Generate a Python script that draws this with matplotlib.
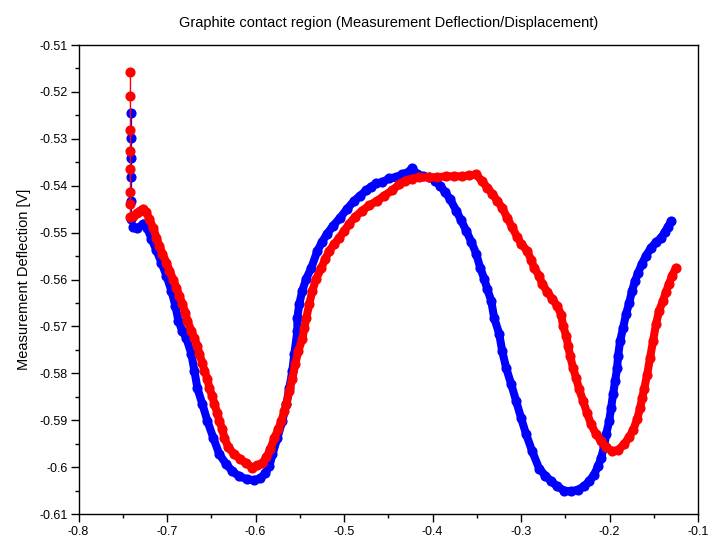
import matplotlib
matplotlib.use("Agg")
import matplotlib.pyplot as plt
from matplotlib.ticker import MultipleLocator, FormatStrFormatter

plt.rcParams['font.family'] = ['Liberation Sans', 'DejaVu Sans']

title = "Graphite contact region (Measurement Deflection/Displacement)"
ylabel = "Measurement Deflection [V]"

blue_x = [-0.7402, -0.7402, -0.7402, -0.7402, -0.7402, -0.7402,
          -0.7379, -0.7334, -0.7266, -0.7221, -0.7176, -0.7119, -0.7063, -0.7006,
          -0.6950, -0.6905, -0.6871, -0.6826, -0.6781, -0.6724, -0.6690, -0.6656,
          -0.6600, -0.6543, -0.6476, -0.6408, -0.6329, -0.6261, -0.6182, -0.6092,
          -0.6013, -0.5945, -0.5889, -0.5843, -0.5809, -0.5753, -0.5697, -0.5651,
          -0.5618, -0.5584, -0.5561, -0.5527, -0.5527, -0.5505, -0.5471, -0.5426,
          -0.5369, -0.5301, -0.5245, -0.5189, -0.5121, -0.5042, -0.4963, -0.4884,
          -0.4816, -0.4748, -0.4692, -0.4635, -0.4568, -0.4488, -0.4409, -0.4342,
          -0.4285, -0.4229, -0.4172, -0.4104, -0.4037, -0.3969, -0.3913, -0.3856,
          -0.3800, -0.3732, -0.3676, -0.3619, -0.3563, -0.3506, -0.3461, -0.3416,
          -0.3382, -0.3337, -0.3303, -0.3246, -0.3213, -0.3167, -0.3111, -0.3055,
          -0.2998, -0.2942, -0.2874, -0.2795, -0.2727, -0.2659, -0.2592, -0.2513,
          -0.2433, -0.2354, -0.2287, -0.2230, -0.2174, -0.2129, -0.2095, -0.2061,
          -0.2038, -0.2004, -0.1982, -0.1959, -0.1937, -0.1914, -0.1903, -0.1880,
          -0.1846, -0.1812, -0.1778, -0.1745, -0.1711, -0.1677, -0.1632, -0.1587,
          -0.1530, -0.1474, -0.1417, -0.1372, -0.1338, -0.1304]
blue_y = [-0.5246, -0.5299, -0.5340, -0.5382, -0.5432, -0.5470,
          -0.5489, -0.5491, -0.5481, -0.5491, -0.5513, -0.5538, -0.5564, -0.5592,
          -0.5624, -0.5656, -0.5688, -0.5710, -0.5725, -0.5759, -0.5795, -0.5832,
          -0.5866, -0.5902, -0.5938, -0.5973, -0.5994, -0.6009, -0.6020, -0.6026,
          -0.6028, -0.6024, -0.6013, -0.5998, -0.5973, -0.5938, -0.5902, -0.5866,
          -0.5832, -0.5795, -0.5759, -0.5710, -0.5682, -0.5652, -0.5624, -0.5598,
          -0.5575, -0.5539, -0.5519, -0.5502, -0.5485, -0.5468, -0.5449, -0.5432,
          -0.5421, -0.5410, -0.5402, -0.5395, -0.5393, -0.5384, -0.5382, -0.5376,
          -0.5372, -0.5363, -0.5376, -0.5380, -0.5382, -0.5389, -0.5400, -0.5414,
          -0.5429, -0.5453, -0.5474, -0.5496, -0.5519, -0.5545, -0.5575, -0.5598,
          -0.5620, -0.5645, -0.5682, -0.5716, -0.5752, -0.5789, -0.5823, -0.5859,
          -0.5896, -0.5930, -0.5966, -0.6003, -0.6018, -0.6030, -0.6041, -0.6050,
          -0.6052, -0.6048, -0.6041, -0.6030, -0.6016, -0.5998, -0.5981, -0.5956,
          -0.5930, -0.5902, -0.5874, -0.5844, -0.5817, -0.5789, -0.5763, -0.5731,
          -0.5703, -0.5673, -0.5650, -0.5624, -0.5603, -0.5586, -0.5566, -0.5549,
          -0.5532, -0.5521, -0.5511, -0.5498, -0.5487, -0.5476]

red_x = [-0.7413, -0.7413, -0.7413, -0.7413, -0.7413, -0.7413, -0.7413, -0.7413,
         -0.7379, -0.7334, -0.7300, -0.7266, -0.7232, -0.7198, -0.7153, -0.7119,
         -0.7085, -0.7052, -0.7006, -0.6973, -0.6927, -0.6893, -0.6860, -0.6826,
         -0.6792, -0.6769, -0.6724, -0.6690, -0.6656, -0.6634, -0.6600, -0.6577,
         -0.6543, -0.6521, -0.6487, -0.6464, -0.6431, -0.6408, -0.6374, -0.6352,
         -0.6306, -0.6239, -0.6171, -0.6103, -0.6035, -0.5979, -0.5922, -0.5877,
         -0.5832, -0.5787, -0.5742, -0.5708, -0.5674, -0.5651, -0.5618, -0.5584,
         -0.5550, -0.5516, -0.5471, -0.5448, -0.5426, -0.5392, -0.5358, -0.5313,
         -0.5256, -0.5211, -0.5166, -0.5109, -0.5053, -0.4997, -0.4940, -0.4872,
         -0.4793, -0.4714, -0.4624, -0.4545, -0.4455, -0.4376, -0.4308, -0.4229,
         -0.4150, -0.4037, -0.3947, -0.3845, -0.3755, -0.3664, -0.3585, -0.3506,
         -0.3438, -0.3382, -0.3325, -0.3269, -0.3213, -0.3156, -0.3100, -0.3043,
         -0.2998, -0.2930, -0.2885, -0.2851, -0.2795, -0.2761, -0.2704, -0.2648,
         -0.2592, -0.2546, -0.2524, -0.2490, -0.2467, -0.2445, -0.2411, -0.2377,
         -0.2343, -0.2298, -0.2253, -0.2208, -0.2151, -0.2095, -0.2038, -0.1970,
         -0.1903, -0.1834, -0.1778, -0.1733, -0.1688, -0.1654, -0.1632, -0.1609,
         -0.1576, -0.1542, -0.1508, -0.1474, -0.1440, -0.1395, -0.1361, -0.1327,
         -0.1293, -0.1248]
red_y = [-0.5158, -0.5209, -0.5282, -0.5327, -0.5365, -0.5414, -0.5440, -0.5466,
         -0.5464, -0.5459, -0.5453, -0.5449, -0.5457, -0.5472, -0.5491, -0.5511,
         -0.5528, -0.5545, -0.5564, -0.5581, -0.5601, -0.5618, -0.5635, -0.5652,
         -0.5671, -0.5688, -0.5710, -0.5725, -0.5742, -0.5759, -0.5778, -0.5795,
         -0.5812, -0.5832, -0.5849, -0.5866, -0.5885, -0.5902, -0.5919, -0.5938,
         -0.5958, -0.5973, -0.5983, -0.5992, -0.6001, -0.5996, -0.5992, -0.5979,
         -0.5962, -0.5938, -0.5919, -0.5902, -0.5881, -0.5866, -0.5838, -0.5812,
         -0.5780, -0.5752, -0.5727, -0.5703, -0.5682, -0.5652, -0.5624, -0.5598,
         -0.5575, -0.5556, -0.5539, -0.5524, -0.5511, -0.5496, -0.5481, -0.5466,
         -0.5453, -0.5442, -0.5432, -0.5421, -0.5410, -0.5397, -0.5389, -0.5385,
         -0.5382, -0.5382, -0.5382, -0.5380, -0.5380, -0.5380, -0.5378, -0.5376,
         -0.5391, -0.5404, -0.5417, -0.5432, -0.5447, -0.5468, -0.5489, -0.5509,
         -0.5524, -0.5539, -0.5558, -0.5575, -0.5592, -0.5609, -0.5626, -0.5641,
         -0.5656, -0.5675, -0.5699, -0.5720, -0.5742, -0.5763, -0.5789, -0.5810,
         -0.5834, -0.5859, -0.5885, -0.5909, -0.5930, -0.5945, -0.5958, -0.5966,
         -0.5964, -0.5951, -0.5936, -0.5921, -0.5898, -0.5874, -0.5853, -0.5834,
         -0.5804, -0.5767, -0.5731, -0.5695, -0.5667, -0.5645, -0.5626, -0.5609,
         -0.5592, -0.5575]

blue_dense_start = 6
red_dense_start = 8

fig = plt.figure(figsize=(7.11, 5.43), dpi=100)
ax = fig.add_axes([78.5 / 711, 1 - 514 / 543, (698 - 78.5) / 711, (514 - 45) / 543])

for xs, ys, k, col in [(blue_x, blue_y, blue_dense_start, '#0000ff'),
                       (red_x, red_y, red_dense_start, '#ff0000')]:
    ax.plot(xs[k:], ys[k:], '-', color=col, lw=5.8, solid_capstyle='round',
            solid_joinstyle='round')
    ax.plot(xs, ys, '-o', color=col, lw=1.0, ms=6.3, mec=col, mfc=col)

ax.set_xlim(-0.8, -0.1)
ax.set_ylim(-0.61, -0.51)
ax.xaxis.set_major_locator(MultipleLocator(0.1))
ax.xaxis.set_minor_locator(MultipleLocator(0.05))
ax.yaxis.set_major_locator(MultipleLocator(0.01))
ax.yaxis.set_minor_locator(MultipleLocator(0.005))
ax.xaxis.set_major_formatter(FormatStrFormatter('%g'))
ax.yaxis.set_major_formatter(FormatStrFormatter('%g'))
ax.tick_params(which='major', direction='out', length=5.5, width=1.0,
               labelsize=9, pad=3)
ax.tick_params(which='minor', direction='out', length=3, width=1.0)
ax.tick_params(axis='y', which='major', pad=2)
for s in ax.spines.values():
    s.set_linewidth(1.0)

ax.set_title(title, fontsize=10.5, pad=13)
ax.set_ylabel(ylabel, fontsize=10.5, labelpad=6)

fig.savefig("out.png", dpi=100)
